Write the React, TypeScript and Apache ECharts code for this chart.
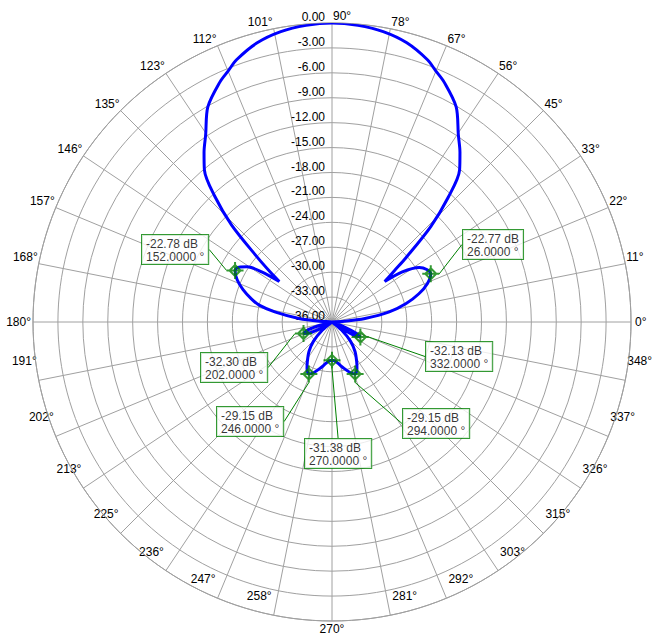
import React, { useEffect, useRef } from 'react';
import * as echarts from 'echarts';

// ---- data ----
const patternAngles = [
  0, 3, 6, 10, 14, 18, 22, 26, 29, 32, 35.5, 37.5, 39.5, 41, 44, 47, 50, 53, 56, 60, 65, 67.5, 70, 75, 80, 85,
  90, 95, 100, 105, 110, 112.5, 115, 120, 124, 127, 130, 133, 136, 139, 141, 142.5, 144.5, 147, 149.5, 152,
  156, 160, 164, 167, 170, 174, 177, 180, 190, 195, 198, 202, 206, 209, 214, 220, 226, 232, 238, 242, 246,
  250, 256, 262, 266, 270, 274, 278, 284, 290, 294, 298, 302, 308, 314, 320, 324, 327, 329, 332, 335, 338,
  342, 360,
];
const patternDb = [
  -36, -34.5, -32, -29.0, -26.8, -25.0, -23.6, -22.77, -22.95, -23.6, -25.6, -28.0, -26.2, -24.2, -19.5, -15.5,
  -12.1, -10.4, -8.8, -6.1, -4.1, -3.3, -2.4, -1.2, -0.5, -0.15,
  0, -0.15, -0.5, -1.2, -2.4, -3.3, -4.1, -6.1, -8.8, -10.4, -12.1, -15.3, -19.2, -24.0, -26.4, -28.0, -25.6,
  -23.8, -23.0, -22.78,
  -23.5, -24.6, -25.9, -27.0, -29.0, -32.0, -34.5, -36, -36, -34.5, -33.0, -32.3, -33.0, -34.5, -36, -34.5,
  -32.8, -31.5, -30.4, -29.6, -29.15,
  -29.5, -30.3, -31.0, -31.3, -31.38, -31.3, -31.0, -30.3, -29.5, -29.15, -29.6, -30.4, -31.5, -32.8, -34.5,
  -36, -34.0, -32.8, -32.13, -32.8, -34.5,
  -36, -36,
];

const markerAngles = [152, 26, 202, 246, 270, 294, 332];
const markerDb = [-22.78, -22.77, -32.3, -29.15, -31.38, -29.15, -32.13];
// annotation box top-left positions (layout only)
const markerBoxX = [142, 463, 201, 217, 305, 403, 426];
const markerBoxY = [235, 230, 353, 407, 439, 409, 342];

const angleTickLabels = [
  '0°', '11°', '22°', '33°', '45°', '56°', '67°', '78°', '90°', '101°', '112°', '123°', '135°', '146°', '157°',
  '168°', '180°', '191°', '202°', '213°', '225°', '236°', '247°', '258°', '270°', '281°', '292°', '303°',
  '315°', '326°', '337°', '348°',
];
const angleTickStep = 11.25;
const dbMin = -36;
const dbMax = 0;
const dbStep = 3;

const FONT = '"Liberation Sans", Arial, Helvetica, sans-serif';
const GRID = '#a0a0a0';
const GREEN = '#008000';

// axis angle: 0 at top (startAngle 90), counter-clockwise
const toAxisAngle = (theta: number) => (((theta - 90) % 360) + 360) % 360;

const markerPath =
  'path://M10,0 L10,20 M0,10 L20,10 M10,3.5 L16.5,10 L10,16.5 L3.5,10 Z';

export default function App() {
  const ref = useRef<HTMLDivElement>(null);

  useEffect(() => {
    if (!ref.current) return;
    const chart = echarts.init(ref.current, null, { renderer: 'svg' });

    const lineData = patternAngles.map((a, i) => [patternDb[i], toAxisAngle(a)]);
    const markData = markerAngles.map((a, i) => [markerDb[i], toAxisAngle(a)]);

    chart.setOption({
      animation: false,
      backgroundColor: '#ffffff',
      textStyle: { fontFamily: FONT },
      polar: { center: [332, 322], radius: 299 },
      angleAxis: {
        type: 'value',
        min: 0,
        max: 360,
        interval: angleTickStep,
        startAngle: 90,
        clockwise: false,
        axisLine: { show: true, lineStyle: { color: GRID, width: 1 } },
        axisTick: { show: false },
        axisLabel: { show: false },
        splitLine: { show: true, lineStyle: { color: GRID, width: 1 } },
      },
      radiusAxis: {
        type: 'value',
        min: dbMin,
        max: dbMax,
        interval: dbStep,
        axisLine: { show: false },
        axisTick: { show: false },
        axisLabel: {
          show: true,
          margin: 7,
          color: '#000',
          fontSize: 12,
          fontFamily: FONT,
          align: 'right',
          verticalAlign: 'bottom',
          formatter: (v: number) => v.toFixed(2),
        },
        splitLine: { show: true, lineStyle: { color: GRID, width: 1 } },
      },
      series: [
        {
          type: 'line',
          coordinateSystem: 'polar',
          data: lineData,
          showSymbol: false,
          smooth: 0.3,
          lineStyle: { color: '#0000ff', width: 3 },
          z: 3,
        },
        {
          type: 'scatter',
          coordinateSystem: 'polar',
          data: markData,
          symbol: markerPath,
          symbolSize: 17,
          itemStyle: { color: 'rgba(0,0,0,0)', borderColor: GREEN, borderWidth: 2 },
          z: 4,
          label: {
            show: true,
            formatter: (p: any) =>
              `${markerDb[p.dataIndex].toFixed(2)} dB\n${markerAngles[p.dataIndex].toFixed(4)} °`,
            backgroundColor: '#ffffff',
            borderColor: GREEN,
            borderWidth: 1,
            padding: [2, 4, 1, 4],
            color: '#000',
            fontSize: 12,
            lineHeight: 13,
            fontFamily: FONT,
          },
          labelLine: { show: true, lineStyle: { color: GREEN, width: 1 } },
          labelLayout: (params: any) => ({
            x: markerBoxX[params.dataIndex],
            y: markerBoxY[params.dataIndex],
            align: 'left',
            verticalAlign: 'top',
          }),
        },
      ],
    });

    // angle tick labels placed from the library's own polar scale
    const texts = angleTickLabels.map((txt, i) => {
      const theta = i * angleTickStep;
      const pt = chart.convertToPixel({ seriesIndex: 0 }, [dbMax, toAxisAngle(theta)]) as number[];
      const rad = (theta * Math.PI) / 180;
      const c = Math.cos(rad);
      const s = Math.sin(rad);
      let x = pt[0];
      let y = pt[1];
      let align = 'center';
      let vAlign = 'middle';
      if (Math.abs(s) < 0.05) {
        align = c > 0 ? 'left' : 'right';
        x += c > 0 ? 4 : -2;
      } else if (s > 0) {
        vAlign = 'bottom';
        y -= 1;
        if (Math.abs(c) < 0.05) {
          align = 'left';
          x += 1;
        } else {
          align = c > 0 ? 'left' : 'right';
          x += c > 0 ? 1 : -1;
        }
      } else {
        if (Math.abs(c) < 0.05) {
          align = 'center';
          vAlign = 'top';
          y += 2;
        } else {
          vAlign = 'bottom';
          y -= 13;
          align = c > 0 ? 'left' : 'right';
          x += c > 0 ? 2 : -2;
        }
      }
      return {
        type: 'text',
        x,
        y,
        silent: true,
        style: {
          text: txt,
          fill: '#000',
          font: `12px ${FONT}`,
          align,
          verticalAlign: vAlign,
        },
      };
    });
    chart.setOption({ graphic: texts });

    return () => chart.dispose();
  }, []);

  return (
    <div
      ref={ref}
      style={{ position: 'fixed', left: 0, top: 0, width: 660, height: 641, background: '#fff' }}
    />
  );
}
